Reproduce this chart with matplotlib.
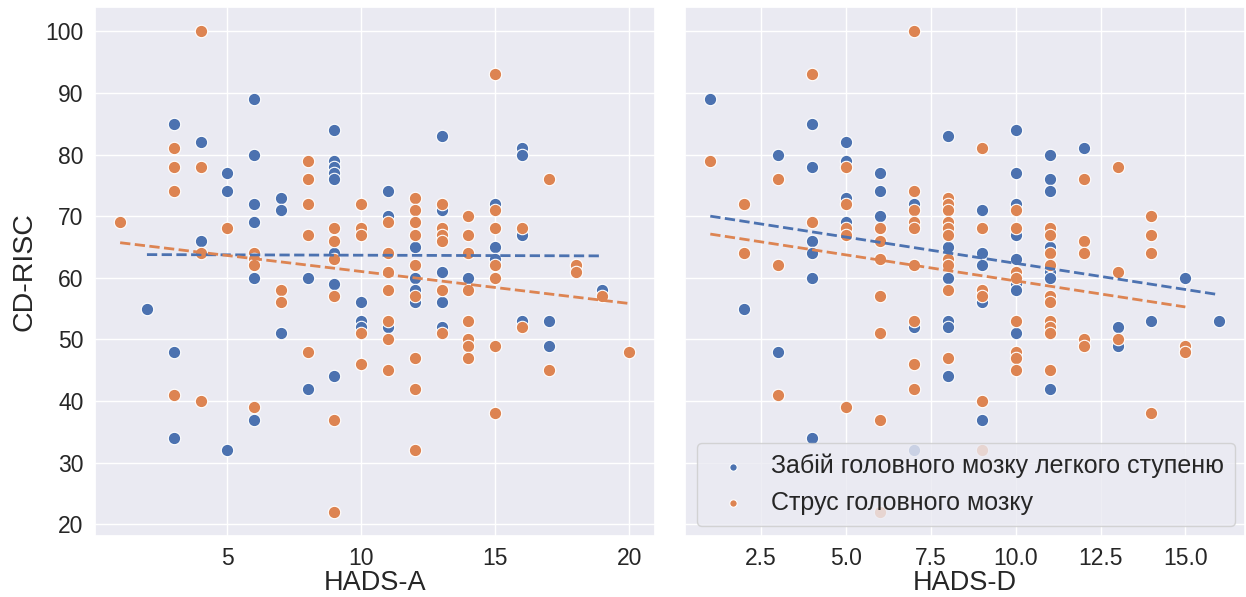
import numpy as np
import matplotlib
matplotlib.use("Agg")
import matplotlib.pyplot as plt
import seaborn as sns

# CD-RISC vs HADS-A, mild brain contusion group
a_blue_x = [2, 3, 3, 3, 4, 4, 5, 5, 5, 6, 6, 6, 6, 6, 6, 7, 7, 7, 8, 8,
            9, 9, 9, 9, 9, 9, 9, 9, 10, 10, 10, 11, 11, 11, 12, 12, 12, 12,
            13, 13, 13, 13, 13, 14, 15, 15, 15, 16, 16, 16, 16, 17, 17, 19]
a_blue_y = [55, 85, 48, 34, 82, 66, 77, 74, 32, 89, 80, 72, 69, 60, 37, 73, 71, 51, 60, 42,
            84, 79, 78, 77, 76, 64, 59, 44, 56, 53, 52, 74, 70, 52, 65, 60, 58, 56,
            83, 71, 61, 56, 52, 60, 72, 65, 63, 81, 80, 67, 53, 53, 49, 58]

# CD-RISC vs HADS-A, concussion group
a_orange_x = [1, 3, 3, 3, 3, 4, 4, 4, 4, 5, 6, 6, 6, 6, 7, 7, 8, 8, 8, 8, 8,
              9, 9, 9, 9, 9, 9, 10, 10, 10, 10, 10, 11, 11, 11, 11, 11, 11, 11,
              12, 12, 12, 12, 12, 12, 12, 12, 12, 13, 13, 13, 13, 13, 13,
              14, 14, 14, 14, 14, 14, 14, 14, 15, 15, 15, 15, 15, 15, 15,
              16, 16, 17, 17, 18, 18, 19, 20]
a_orange_y = [69, 81, 78, 74, 41, 100, 78, 64, 40, 68, 64, 63, 62, 39, 58, 56, 79, 76, 72, 67, 48,
              68, 66, 63, 57, 37, 22, 72, 68, 67, 51, 46, 69, 64, 61, 58, 53, 50, 45,
              73, 71, 69, 67, 62, 57, 47, 42, 32, 72, 68, 67, 66, 58, 51,
              70, 67, 64, 58, 53, 50, 49, 47, 93, 71, 68, 62, 60, 49, 38,
              68, 52, 76, 45, 62, 61, 57, 48]

# CD-RISC vs HADS-D, mild brain contusion group
d_blue_x = [1, 2, 3, 3, 4, 4, 4, 4, 4, 4, 5, 5, 5, 5, 6, 6, 6, 7, 7, 7,
            8, 8, 8, 8, 8, 8, 9, 9, 9, 9, 9, 10, 10, 10, 10, 10, 10, 10, 10,
            11, 11, 11, 11, 11, 11, 11, 12, 13, 13, 14, 15, 16]
d_blue_y = [89, 55, 80, 48, 85, 78, 66, 64, 60, 34, 82, 79, 73, 69, 77, 74, 70, 72, 52, 32,
            83, 65, 60, 53, 52, 44, 71, 64, 62, 56, 37, 84, 77, 72, 67, 63, 59, 58, 51,
            80, 76, 74, 65, 61, 60, 42, 81, 52, 49, 53, 60, 53]

# CD-RISC vs HADS-D, concussion group
d_orange_x = [1, 2, 2, 3, 3, 3, 4, 4, 5, 5, 5, 5, 5, 6, 6, 6, 6, 6, 6, 6,
              7, 7, 7, 7, 7, 7, 7, 7, 7, 8, 8, 8, 8, 8, 8, 8, 8, 8, 8,
              9, 9, 9, 9, 9, 9, 10, 10, 10, 10, 10, 10, 10, 10,
              11, 11, 11, 11, 11, 11, 11, 11, 11, 11, 12, 12, 12, 12, 12,
              13, 13, 13, 14, 14, 14, 14, 15, 15]
d_orange_y = [79, 72, 64, 76, 62, 41, 93, 69, 78, 72, 68, 67, 39, 68, 66, 63, 57, 51, 37, 22,
              100, 74, 71, 69, 68, 62, 53, 46, 42, 73, 72, 71, 69, 68, 67, 63, 62, 58, 47,
              81, 68, 58, 57, 40, 32, 71, 68, 61, 60, 53, 48, 47, 45,
              68, 67, 64, 62, 57, 56, 53, 52, 51, 45, 76, 66, 64, 50, 49,
              78, 61, 50, 70, 67, 64, 38, 49, 48]

group_labels = ["Забій головного мозку легкого ступеню", "Струс головного мозку"]
x_labels = ["HADS-A", "HADS-D"]
y_label = "CD-RISC"
y_ticks = [20, 30, 40, 50, 60, 70, 80, 90, 100]
left_x_ticks = [5, 10, 15, 20]
right_x_ticks = [2.5, 5.0, 7.5, 10.0, 12.5, 15.0]

sns.set_theme(style="darkgrid")
plt.rcParams["font.family"] = ["Liberation Sans", "DejaVu Sans"]

colors = sns.color_palette("deep")[:2]

fig, axes = plt.subplots(1, 2, figsize=(12.46, 5.97), dpi=100, sharey=True)
fig.subplots_adjust(left=0.076, right=0.999, top=0.988, bottom=0.102, wspace=0.054)

panels = [
    (axes[0], [(a_blue_x, a_blue_y), (a_orange_x, a_orange_y)], left_x_ticks),
    (axes[1], [(d_blue_x, d_blue_y), (d_orange_x, d_orange_y)], right_x_ticks),
]

for i, (ax, groups, xt) in enumerate(panels):
    for (gx, gy), col, lab in zip(groups, colors, group_labels):
        gx = np.asarray(gx, float)
        gy = np.asarray(gy, float)
        ax.scatter(gx, gy, s=80, color=col, edgecolor="white", linewidth=0.8,
                   label=lab, zorder=3)
    for (gx, gy), col in zip(groups, colors):
        gx = np.asarray(gx, float)
        gy = np.asarray(gy, float)
        k, b = np.polyfit(gx, gy, 1)
        xs = np.array([gx.min(), gx.max()])
        ax.plot(xs, k * xs + b, "--", color=col, lw=2, zorder=4)
    ax.set_xticks(xt)
    if i == 1:
        ax.set_xticklabels([f"{t:.1f}" for t in xt])
    ax.set_xlabel(x_labels[i], fontsize=19.5, labelpad=0)
    ax.tick_params(labelsize=16.5, pad=2)

axes[0].set_yticks(y_ticks)
axes[0].set_ylabel(y_label, fontsize=20.5, labelpad=6)

leg = axes[1].legend(loc="lower right", fontsize=18, markerscale=0.6,
                     handletextpad=0.5, borderpad=0.45, framealpha=0.8,
                     borderaxespad=0.4)

fig.savefig("out.png", dpi=100)
